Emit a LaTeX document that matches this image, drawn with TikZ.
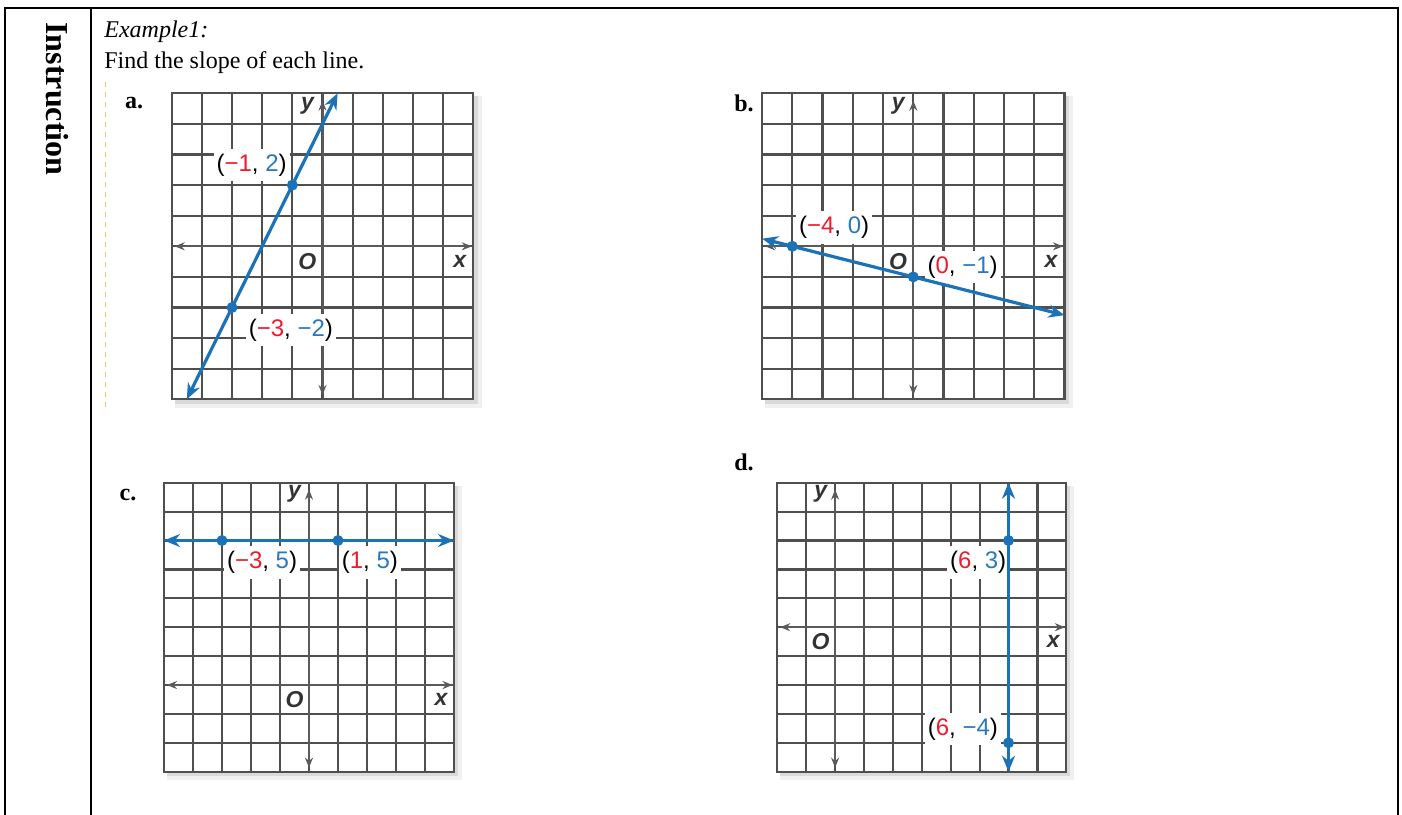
\documentclass[tikz,border=0pt]{standalone}
\usepackage{fontspec}
\setmainfont{Liberation Serif}
\setsansfont{Liberation Sans}
\usepackage{xcolor}
\usetikzlibrary{arrows.meta}
\definecolor{lineblue}{HTML}{1B72B8}
\definecolor{ptred}{HTML}{EC1C2E}
\definecolor{ptblue}{HTML}{2A78BE}
\definecolor{gridgray}{HTML}{4F4F4F}
\definecolor{axisgray}{HTML}{5A5A5A}
\definecolor{dotgold}{HTML}{F2C46A}
\tikzset{
  tableline/.style={line width=1pt, black},
  gridline/.style={line width=1.1pt, gridgray, line cap=rect},
  axisline/.style={{Stealth[length=5pt,width=4pt]}-{Stealth[length=5pt,width=4pt]}, line width=1pt, axisgray},
  axislabel/.style={font=\sffamily\bfseries\itshape\fontsize{11.5}{13}\selectfont, text=black!80, inner sep=0pt},
  slopeline/.style={{Stealth[length=8pt,width=6.5pt]}-{Stealth[length=8pt,width=6.5pt]}, line width=1.6pt, lineblue},
  ptdot/.style={circle, fill=lineblue, inner sep=0pt, minimum size=5.5pt},
  ptlabel/.style={fill=white, font=\sffamily\fontsize{12}{14}\selectfont, inner xsep=1.5pt, inner ysep=2.5pt},
  partlabel/.style={font=\bfseries\fontsize{12}{14}\selectfont, inner sep=0pt},
  bodytext/.style={font=\fontsize{12}{14}\selectfont, anchor=base west, inner sep=0pt},
}
% #1 name prefix, #2 xmin, #3 xmax, #4 ymin, #5 ymax
\newcommand{\slopegrid}[5]{%
  \fill[black, opacity=0.06] (#2+0.1,#4-0.28) rectangle (#3+0.28,#5-0.1);
  \fill[black, opacity=0.09] (#2+0.1,#4-0.14) rectangle (#3+0.14,#5-0.1);
  \fill[white] (#2,#4) rectangle (#3,#5);
  \foreach \gx in {#2,...,#3} \draw[gridline] (\gx,#4) -- (\gx,#5);
  \foreach \gy in {#4,...,#5} \draw[gridline] (#2,\gy) -- (#3,\gy);
  \draw[axisline] (#2+0.1,0) -- (#3-0.05,0);
  \draw[axisline] (0,#5-0.24) -- (0,#4+0.14);
  \node[axislabel] (#1y) at (-0.5,#5-0.4) {y};
  \node[axislabel] (#1x) at (#3-0.45,-0.5) {x};
  \node[axislabel] (#1O) at (-0.5,-0.5) {O};
}

\begin{document}
\begin{tikzpicture}[x=0.5pt, y=-0.5pt]
  \useasboundingbox (0,0) rectangle (1402,814);
  % table frame
  \draw[tableline] (4.7,820) -- (4.7,8) -- (1397.7,8) -- (1397.7,820);
  \draw[tableline] (90.7,8) -- (90.7,820);
  \node[rotate=-90, font=\bfseries\fontsize{16}{18}\selectfont, inner sep=0pt] (instr) at (57,99) {Instruction};
  \node[bodytext] (ex) at (104,37.7) {\textit{Example1:}};
  \node[bodytext] (task) at (104,68) {Find the slope of each line.};
  \draw[dotgold, line width=0.7pt, dash pattern=on 2.5pt off 2.5pt] (105.5,82) -- (105.5,410);

  \node[partlabel] (pa) at (134,103) {a.};
  \node[partlabel] (pb) at (744,103) {b.};
  \node[partlabel] (pc) at (128,495) {c.};
  \node[partlabel] (pd) at (744,462) {d.};

  % a
  \begin{scope}[shift={(322.5,246.3)}, x=15.08pt, y=15.3pt]
    \slopegrid{a}{-5}{5}{-5}{5}
    \coordinate (a1) at (-1,2);
    \coordinate (a2) at (-3,-2);
    \coordinate (aS) at (-4.5,-5);
    \coordinate (aE) at (0.5,5);
    \node[ptlabel] (la1) at (-2.35,2.66) {(\textcolor{ptred}{−1}, \textcolor{ptblue}{2})};
    \node[ptlabel] (la2) at (-1.05,-2.74) {(\textcolor{ptred}{−3}, \textcolor{ptblue}{−2})};
    \draw[slopeline] (aS) -- (aE);
    \node[ptdot] at (a1) {};
    \node[ptdot] at (a2) {};
  \end{scope}

  % b
  \begin{scope}[shift={(913.3,246.3)}, x=15.12pt, y=15.3pt]
    \slopegrid{b}{-5}{5}{-5}{5}
    \coordinate (b1) at (-4,0);
    \coordinate (b2) at (0,-1);
    \coordinate (bS) at (-5,0.25);
    \coordinate (bE) at (5,-2.25);
    \node[ptlabel] (lb1) at (-2.62,0.61) {(\textcolor{ptred}{−4}, \textcolor{ptblue}{0})};
    \node[ptlabel] (lb2) at (1.63,-0.68) {(\textcolor{ptred}{0}, \textcolor{ptblue}{−1})};
    \draw[slopeline] (bS) -- (bE);
    \node[ptdot] at (b1) {};
    \node[ptdot] at (b2) {};
  \end{scope}

  % c
  \begin{scope}[shift={(309,685)}, x=14.5pt, y=14.45pt]
    \slopegrid{c}{-5}{5}{-3}{7}
    \coordinate (c1) at (-3,5);
    \coordinate (c2) at (1,5);
    \coordinate (cS) at (-5,5);
    \coordinate (cE) at (5,5);
    \node[ptlabel] (lc1) at (-1.62,4.24) {(\textcolor{ptred}{−3}, \textcolor{ptblue}{5})};
    \node[ptlabel] (lc2) at (2.1,4.24) {(\textcolor{ptred}{1}, \textcolor{ptblue}{5})};
    \draw[slopeline] (cS) -- (cE);
    \node[ptdot] at (c1) {};
    \node[ptdot] at (c2) {};
  \end{scope}

  % d
  \begin{scope}[shift={(835.1,627.2)}, x=14.45pt, y=14.45pt]
    \slopegrid{d}{-2}{8}{-5}{5}
    \coordinate (d1) at (6,3);
    \coordinate (d2) at (6,-4);
    \coordinate (dS) at (6,-5);
    \coordinate (dE) at (6,5);
    \node[ptlabel] (ld1) at (4.95,2.24) {(\textcolor{ptred}{6}, \textcolor{ptblue}{3})};
    \node[ptlabel] (ld2) at (4.42,-3.52) {(\textcolor{ptred}{6}, \textcolor{ptblue}{−4})};
    \draw[slopeline] (dS) -- (dE);
    \node[ptdot] at (d1) {};
    \node[ptdot] at (d2) {};
  \end{scope}
\end{tikzpicture}
\end{document}
